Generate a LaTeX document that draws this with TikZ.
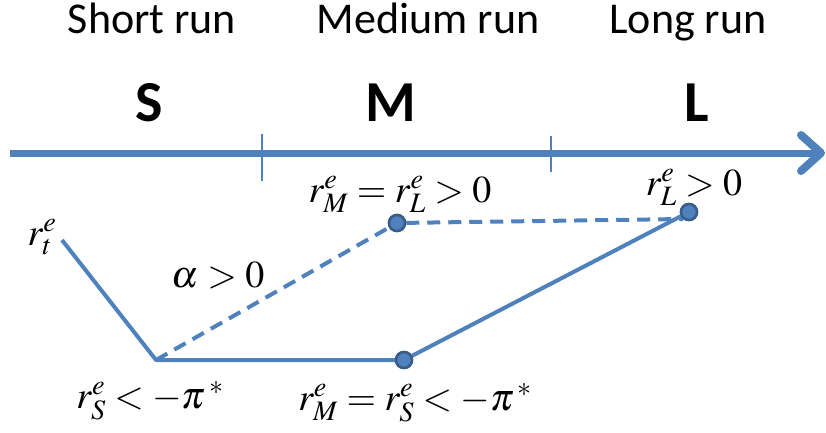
\documentclass[tikz,border=0pt]{standalone}
\usepackage{fontspec}
\usepackage{mathptmx}
\setsansfont{Carlito}
\definecolor{lineblue}{HTML}{4F81BD}
\definecolor{dotedge}{HTML}{385D8A}
\begin{document}
\begin{tikzpicture}[x=1pt,y=-1pt,
  head/.style={font=\sffamily\fontsize{44}{48}\selectfont, anchor=base},
  period/.style={font=\sffamily\bfseries\fontsize{58}{62}\selectfont, anchor=base},
  lbl/.style={font=\fontsize{38}{42}\selectfont, anchor=base, inner sep=0pt},
  pathline/.style={lineblue, line width=4pt},
  dashline/.style={lineblue, line width=4pt, dash pattern=on 13pt off 8pt},
  dot/.style={circle, fill=lineblue, draw=dotedge, line width=2.5pt, minimum size=16pt, inner sep=0pt}]
\useasboundingbox (0,0) rectangle (826,432);
% headers
\node[head] (hs) at (152,33) {Short run};
\node[head] (hm) at (428,33) {Medium run};
\node[head] (hl) at (688,33) {Long run};
\node[period] (ps) at (149,121) {S};
\node[period] (pm) at (391,121) {M};
\node[period] (pl) at (697,121) {L};
% axis
\coordinate (a0) at (10,153);
\coordinate (a1) at (817,153);
\coordinate (tip) at (821,153);
\draw[lineblue, line width=7pt] (a0) -- (a1);
\draw[lineblue, line width=8pt, line cap=round, line join=round] (801,135) -- (tip) -- (801,171);
\coordinate (t1a) at (262,134); \coordinate (t1b) at (262,181);
\coordinate (t2a) at (551,136); \coordinate (t2b) at (551,172);
\draw[lineblue, line width=1.5pt] (t1a) -- (t1b);
\draw[lineblue, line width=1.5pt] (t2a) -- (t2b);
% path points
\coordinate (start) at (62,240);
\coordinate (low) at (156,360);
\node[dot] (dm) at (404,360) {};
\node[dot] (dl) at (689,212) {};
\node[dot] (du) at (397,223) {};
\coordinate (dlend) at (683,219);
\draw[pathline, line join=round] (start) -- (low) -- (dm.center);
\draw[pathline] (dm) -- (dl);
\draw[dashline] (low) -- (du);
\draw[dashline] (du) -- (dlend);
% redraw dots on top
\node[dot] at (dm.center) {};
\node[dot] at (dl.center) {};
\node[dot] at (du.center) {};
% labels
\node[lbl] (lt) at (42,245) {$r_t^e$};
\node[lbl] (la) at (218,287) {$\alpha>0$};
\node[lbl] (lmu) at (400,202) {$r_M^e=r_L^e>0$};
\node[lbl] (ll) at (694,195) {$r_L^e>0$};
\node[lbl] (ls) at (150,408) {$r_S^e<-\pi^{\,*}$};
\node[lbl] (lms) at (415,410) {$r_M^e=r_S^e<-\pi^{\,*}$};
\end{tikzpicture}
\end{document}
